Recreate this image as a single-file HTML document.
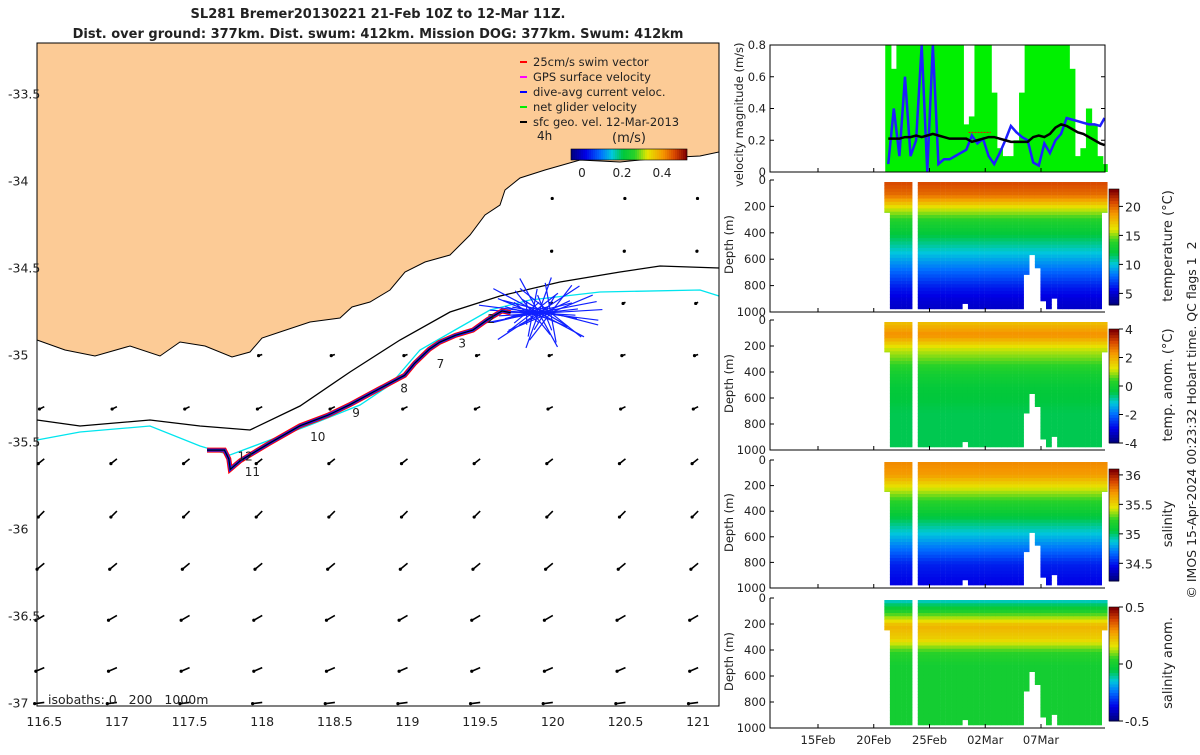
<!DOCTYPE html>
<html><head><meta charset="utf-8"><style>
body{margin:0;background:#fff;width:1200px;height:750px;overflow:hidden;font-family:"Liberation Sans",sans-serif}
svg text{font-family:"DejaVu Sans","Liberation Sans",sans-serif;fill:#222;white-space:pre}
</style></head><body>
<svg id="s" width="1200" height="750"></svg>
<script>
// ---- data ----
const lonTicks=[116.5,117,117.5,118,118.5,119,119.5,120,120.5,121];
const latTicks=[-33.5,-34,-34.5,-35,-35.5,-36,-36.5,-37];
const trackLon=[119.71,119.65,119.55,119.45,119.33,119.22,119.15,119.05,118.98,118.8,118.6,118.45,118.26,118.05,117.85,117.78,117.77,117.74,117.62];
const trackLat=[-34.76,-34.75,-34.8,-34.86,-34.89,-34.93,-34.97,-35.05,-35.12,-35.2,-35.29,-35.35,-35.41,-35.51,-35.61,-35.66,-35.6,-35.55,-35.55];
const numLabels=['2','3','7','8','9','10','11','12'];
const numLon=[119.55,119.35,119.2,118.95,118.62,118.33,117.88,117.83];
const numLat=[-34.79,-34.93,-35.05,-35.19,-35.33,-35.47,-35.67,-35.58];
const arrowLon=[116.5,117,117.5,118,118.5,119,119.5,120,120.5,121];
const arrowLat=[-34.1,-34.4,-34.7,-35.0,-35.3,-35.6,-35.9,-36.2,-36.5,-36.8,-37.0];
const arrowU=[-0.005,-0.01,-0.02,-0.03,-0.04,-0.05,-0.05,-0.06,-0.07,-0.07,-0.08];
const arrowV=[-0.005,-0.01,-0.01,-0.01,-0.02,-0.04,-0.05,-0.05,-0.04,-0.03,-0.01];
const dateTicks=[15,20,25,30,35];
const dateLabels=['15Feb','20Feb','25Feb','02Mar','07Mar'];
const velTicks=[0,0.2,0.4,0.6,0.8];
const velT=[21.3,21.8,22.3,22.8,23.3,23.8,24.3,24.8,25.3,25.8,26.3,26.8,27.3,27.8,28.3,28.8,29.3,29.8,30.3,30.8,31.3,31.8,32.3,32.8,33.3,33.8,34.3,34.8,35.3,35.8,36.3,36.8,37.3,37.8,38.3,38.8,39.3,39.8,40.3,40.7];
const netVel=[0.21,0.21,0.21,0.22,0.22,0.23,0.22,0.23,0.24,0.23,0.22,0.21,0.21,0.21,0.21,0.19,0.2,0.21,0.22,0.22,0.21,0.2,0.19,0.19,0.19,0.19,0.22,0.23,0.22,0.24,0.28,0.3,0.29,0.27,0.25,0.24,0.22,0.2,0.18,0.17];
const curVel=[0.05,0.4,0.1,0.6,0.1,0.2,0.8,0.0,0.8,0.05,0.08,0.08,0.1,0.12,0.14,0.23,0.18,0.21,0.1,0.05,0.12,0.2,0.29,0.25,0.22,0.2,0.06,0.04,0.18,0.12,0.2,0.24,0.34,0.33,0.32,0.31,0.3,0.3,0.29,0.34];
const greenVel=[0.8,0.65,0.8,0.8,0.8,0.8,0.8,0.8,0.8,0.8,0.8,0.8,0.8,0.8,0.3,0.35,0.8,0.8,0.8,0.5,0.15,0.1,0.1,0.2,0.5,0.8,0.8,0.8,0.8,0.8,0.8,0.8,0.8,0.65,0.1,0.15,0.4,0.3,0.1,0.05];
const colT=[21.2,21.7,22.2,22.7,23.2,23.7,24.2,24.7,25.2,25.7,26.2,26.7,27.2,27.7,28.2,28.7,29.2,29.7,30.2,30.7,31.2,31.7,32.2,32.7,33.2,33.7,34.2,34.7,35.2,35.7,36.2,36.7,37.2,37.7,38.2,38.7,39.2,39.7,40.2,40.7];
const colMaxDepth=[230,960,960,960,960,0,960,960,960,960,960,960,960,960,920,960,960,960,960,960,960,960,960,960,960,700,550,650,900,960,880,960,960,960,960,960,960,960,960,230];
const depthLevels=[0,100,200,300,400,500,600,700,800,900,1000];
const depthTicks=[0,200,400,600,800,1000];
const tempProf=[21,20,16,13.5,12,10.5,9,7.5,6,5,4.5];
const tempAnomProf=[1.8,2.5,1.2,0.6,0,-0.3,-0.4,-0.5,-0.5,-0.5,-0.5];
const salProf=[35.75,35.7,35.45,35.25,35.1,34.95,34.8,34.65,34.5,34.45,34.4];
const salAnomProf=[-0.15,0.05,0.25,0.2,0.05,0,0,0,0,0,0];
const tempCb=[5,10,15,20], tempAnomCb=[-4,-2,0,2,4], salCb=[34.5,35,35.5,36], salAnomCb=[-0.5,0,0.5];
// ---- helpers ----
const S=document.getElementById('s');const NS='http://www.w3.org/2000/svg';
function el(t,a,p){const e=document.createElementNS(NS,t);for(const k in a)e.setAttribute(k,a[k]);(p||S).appendChild(e);return e;}
function tx(x,y,s,a,p){const e=el('text',Object.assign({x:x,y:y,'font-size':12},a||{}),p);e.textContent=s;return e;}
const CM=[[0,[0,0,130]],[0.12,[0,0,230]],[0.25,[0,110,255]],[0.35,[0,200,220]],[0.45,[0,200,60]],[0.55,[40,210,40]],[0.66,[230,230,0]],[0.8,[245,150,0]],[0.9,[215,70,0]],[1,[130,0,0]]];
function jet(v){v=Math.max(0,Math.min(1,v));for(let i=1;i<CM.length;i++){if(v<=CM[i][0]){const a=CM[i-1],b=CM[i],f=(v-a[0])/(b[0]-a[0]);return `rgb(${a[1].map((c,j)=>Math.round(c+(b[1][j]-c)*f)).join(',')})`;}}return 'rgb(130,0,0)';}
const mx=l=>37+(l-116.45)*145.3, my=l=>43+(-33.21-l)*174;
// ---- title ----
tx(378,18,'SL281 Bremer20130221 21-Feb 10Z to 12-Mar 11Z.',{'text-anchor':'middle','font-weight':'bold','font-size':13});
tx(378,38,'Dist. over ground: 377km. Dist. swum: 412km. Mission DOG: 377km. Swum: 412km',{'text-anchor':'middle','font-weight':'bold','font-size':13});
// ---- map ----
const map=el('g',{});
el('rect',{x:37,y:43,width:682,height:663,fill:'#fff'},map);
const coast='37,43 719,43 719,152 700,156 660,158 620,162 580,160 545,170 520,178 505,190 500,205 485,215 470,235 450,255 425,262 405,272 390,290 370,302 352,307 340,318 310,322 280,332 262,338 250,352 232,357 205,346 180,342 160,356 130,346 95,356 65,350 37,340';
el('polygon',{points:coast,fill:'#fccb96',stroke:'#000','stroke-width':1},map);
el('polyline',{points:'37,420 80,426 150,420 200,426 250,430 300,406 350,372 400,340 450,312 500,296 560,282 620,272 660,266 719,268',fill:'none',stroke:'#000','stroke-width':1.3},map);
el('polyline',{points:'37,440 80,432 150,426 200,446 230,455 270,440 310,425 360,405 390,385 420,350 455,330 490,310 530,300 600,292 700,290 719,296',fill:'none',stroke:'#00e5ee','stroke-width':1.3},map);
arrowLat.forEach((la,i)=>arrowLon.forEach(lo=>{const x=mx(lo),y=my(la);if(y<(x<260?360:(x<500?320:185)))return;const x2=x+arrowU[i]*120,y2=y-arrowV[i]*120;const a=el('line',{x1:x,y1:y,x2:x2,y2:y2,stroke:'#000','stroke-width':1.6},map);el('circle',{cx:x2,cy:y2,r:1.6,fill:'#000'},map);}));
// blue fan
for(let k=0;k<60;k++){const an=(k/60)*Math.PI*2,r=(k*7)%5;const cx=mx(119.82)+(k%5)*6,cy=my(-34.76);el('line',{x1:cx,y1:cy,x2:cx+Math.cos(an)*(25+r*9),y2:cy+Math.sin(an)*(12+r*6),stroke:'#1020ff','stroke-width':1.2},map);}
const tp=trackLon.map((l,i)=>mx(l)+','+my(trackLat[i])).join(' ');
el('polyline',{points:tp,fill:'none',stroke:'#f00','stroke-width':5},map);
el('polyline',{points:tp,fill:'none',stroke:'#1020ff','stroke-width':3},map);
el('polyline',{points:tp,fill:'none',stroke:'#000','stroke-width':1.2},map);
numLabels.forEach((s,i)=>tx(mx(numLon[i]),my(numLat[i])+5,s,{'font-size':12},map));
el('rect',{x:37,y:43,width:682,height:663,fill:'none',stroke:'#000'},map);
lonTicks.forEach(l=>{tx(mx(l),726,String(l),{'text-anchor':'middle','font-size':12.5});});
latTicks.forEach(l=>{tx(8,my(l)+5,String(l),{'font-size':12.5});});
tx(48,704,'isobaths: 0   200   1000m',{'font-size':12.5});
// legend
const lg=el('g',{});
[['#f00','25cm/s swim vector'],['#f0f','GPS surface velocity'],['#00f','dive-avg current veloc.'],['#0e0','net glider velocity'],['#000','sfc geo. vel. 12-Mar-2013']].forEach((d,i)=>{el('line',{x1:520,y1:62+i*15,x2:527,y2:62+i*15,stroke:d[0],'stroke-width':2},lg);tx(533,66+i*15,d[1],{'font-size':11.5},lg);});
tx(537,140,'4h',{'font-size':12},lg);tx(612,142,'(m/s)',{'font-size':13},lg);
for(let i=0;i<58;i++)el('rect',{x:571+i*2,y:149,width:2.1,height:11,fill:jet(i/57)},lg);
el('rect',{x:571,y:149,width:116,height:11,fill:'none',stroke:'#000','stroke-width':.6},lg);
[[0,582],[0.2,622],[0.4,662]].forEach(d=>tx(d[1],177,String(d[0]),{'text-anchor':'middle','font-size':12},lg));
// ---- right panels ----
const tx0=770,tx1=1105,tX=d=>818+(d-15)*11.15;
function dateAxis(g,yb,labels){dateTicks.forEach((d,i)=>{el('line',{x1:tX(d),y1:yb,x2:tX(d),y2:yb-4,stroke:'#000'},g);if(labels)tx(tX(d),744,dateLabels[i],{'text-anchor':'middle','font-size':11.5},g);});}
// velocity panel
const vp=el('g',{});
const vy0=45,vy1=172,vY=v=>vy1-(v/0.8)*(vy1-vy0);
velT.forEach((t,i)=>{const b=el('rect',{x:tX(t)-3,y:vY(greenVel[i]),width:6.2,height:vy1-vY(greenVel[i]),fill:'#00f000'},vp);});
el('polyline',{points:velT.map((t,i)=>tX(t)+','+vY(curVel[i])).join(' '),fill:'none',stroke:'#1e1eff','stroke-width':2.5},vp);
el('line',{x1:tX(28.5),y1:vY(0.25),x2:tX(30.5),y2:vY(0.25),stroke:'#f00','stroke-dasharray':'2,1'},vp);
el('polyline',{points:velT.map((t,i)=>tX(t)+','+vY(netVel[i])).join(' '),fill:'none',stroke:'#000','stroke-width':2.5},vp);
el('rect',{x:tx0,y:vy0,width:tx1-tx0,height:vy1-vy0,fill:'none',stroke:'#000'},vp);
velTicks.forEach(v=>{tx(766,vY(v)+4,String(v),{'text-anchor':'end','font-size':11.5},vp);el('line',{x1:tx0,y1:vY(v),x2:tx0+4,y2:vY(v),stroke:'#000'},vp);el('line',{x1:tx1,y1:vY(v),x2:tx1-4,y2:vY(v),stroke:'#000'},vp);});
dateAxis(vp,vy1,false);
tx(0,0,'velocity magnitude (m/s)',{'font-size':11.5,transform:'translate(743,187) rotate(-90)'},vp);
function section(name,y0,y1,prof,lo,hi,cb,label){
 const g=el('g',{});
 const dY=d=>y0+(d/1000)*(y1-y0);
 const prV=d=>{const k=Math.min(9,Math.floor(d/100)),f=(d-k*100)/100;return prof[k]+(prof[k+1]-prof[k])*f;};
 colT.forEach((t,ci)=>{const md=colMaxDepth[ci];if(!md)return;for(let d=0;d<md;d+=25){const bot=Math.min(md,d+25);const r=el('rect',{x:tX(t)-2.8,y:dY(d)+2,width:5.8,height:dY(bot)-dY(d)+0.5,fill:jet((prV(d+12)-lo)/(hi-lo))},g);}});
 el('polyline',{points:`${tx0},${y0} ${tx0},${y1} ${tx1},${y1}`,fill:'none',stroke:'#000'},g);
 depthTicks.forEach(d=>{tx(766,dY(d)+4,String(d),{'text-anchor':'end','font-size':11.5},g);el('line',{x1:tx0,y1:dY(d),x2:tx0+4,y2:dY(d),stroke:'#000'},g);});
 dateAxis(g,y1,name=='salinity-anomaly-panel');
 tx(0,0,'Depth (m)',{'font-size':11.5,transform:`translate(733,${(y0+y1)/2+28}) rotate(-90)`},g);
 const cy0=y0+9,cy1=y1-7;for(let i=0;i<40;i++)el('rect',{x:1109,y:cy1-(i+1)*(cy1-cy0)/40,width:10,height:(cy1-cy0)/40+0.5,fill:jet(i/39)},g);
 el('rect',{x:1109,y:cy0,width:10,height:cy1-cy0,fill:'none',stroke:'#000','stroke-width':.6},g);
 cb.forEach(v=>{const y=cy1-(v-lo)/(hi-lo)*(cy1-cy0);el('line',{x1:1119,y1:y,x2:1123,y2:y,stroke:'#000'},g);tx(1125,y+5,String(v),{'font-size':12.5},g);});
 label.forEach((l,i)=>tx(0,0,l,{'font-size':13,'text-anchor':'middle',transform:`translate(${1172-(label.length-1-i)*15},${(y0+y1)/2}) rotate(-90)`},g));
}
section('temperature-panel',180,312,tempProf,3,23,tempCb,['temperature (°C)']);
section('temperature-anomaly-panel',320,450,tempAnomProf,-4,4,tempAnomCb,['temp. anom. (°C)']);
section('salinity-panel',460,588,salProf,34.2,36.1,salCb,['salinity']);
section('salinity-anomaly-panel',598,728,salAnomProf,-0.5,0.5,salAnomCb,['salinity anom.']);
tx(0,0,'© IMOS 15-Apr-2024 00:23:32 Hobart time. QC flags 1  2',{'font-size':12.5,'text-anchor':'middle',transform:'translate(1196,420) rotate(-90)'});
</script>
</body></html>
